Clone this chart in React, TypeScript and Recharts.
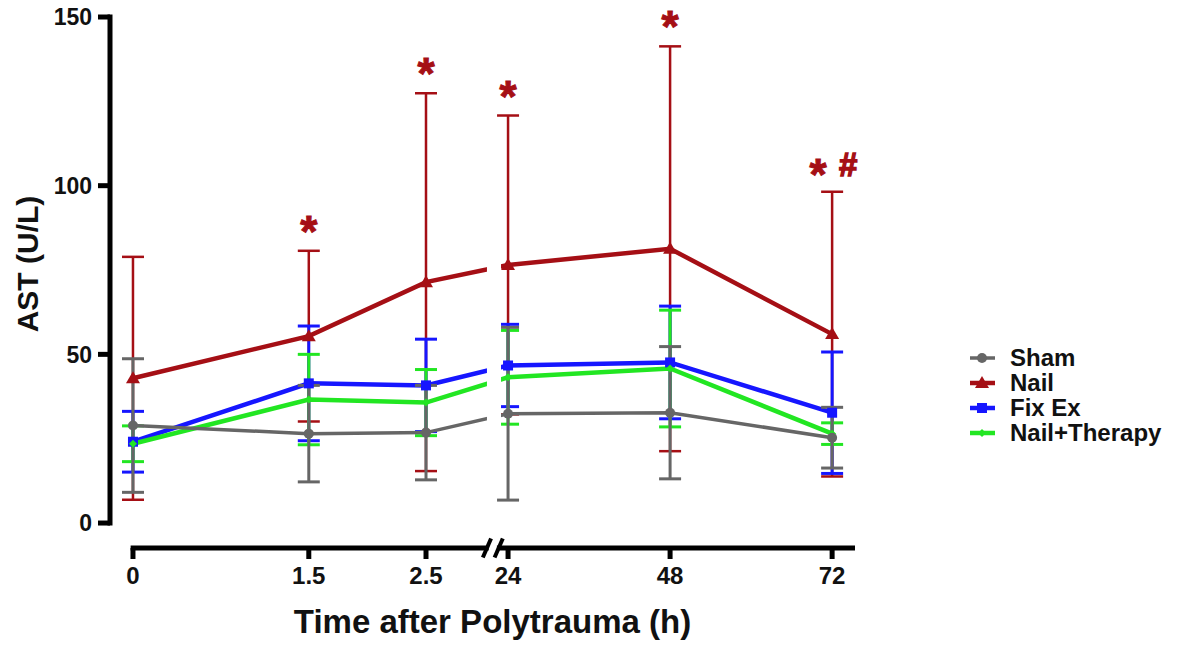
import { ErrorBar, LabelList, Line, LineChart, ReferenceArea, ReferenceLine, XAxis, YAxis } from 'recharts';

const FONT = '"Liberation Sans", Arial, Helvetica, sans-serif';

const times = [0, 1.5, 2.5, 24, 48, 72];
const tickLabels = ['0', '1.5', '2.5', '24', '48', '72'];
const yTicks = [0, 50, 100, 150];

const shamMean = [28.9, 26.5, 26.8, 32.4, 32.7, 25.3];
const shamSd = [19.8, 14.3, 14.0, 25.6, 19.6, 9.0];
const nailMean = [42.9, 55.4, 71.4, 76.5, 81.3, 56.0];
const nailSd = [36.0, 25.3, 56.0, 44.3, 60.0, 42.2];
const fixExMean = [24.1, 41.4, 40.8, 46.7, 47.6, 32.7];
const fixExSd = [9.0, 17.0, 13.7, 12.2, 16.7, 18.0];
const therapyMean = [23.5, 36.6, 35.7, 43.2, 45.8, 26.5];
const therapySd = [5.3, 13.4, 9.8, 13.9, 17.3, 3.2];
const nailMarks = ['', '*', '*', '*', '*', '*'];
const nailHash = ['', '', '', '', '', '#'];

const C = { sham: '#666666', nail: '#a50f15', fixEx: '#1616ff', therapy: '#22e622' };

// broken x axis: 0..2.5 h on the left part, 24..72 h squeezed on the right part
const BREAK_U = 3.07;
const toAxis = (t: number) => (t <= 2.5 ? t : 3.2 + (t - 24) * 0.0576);
const X_MIN = -0.196;
const X_MAX = 6.16;
const Y_MIN = -7.4;

const data = times.map((t, i) => ({
  u: toAxis(t),
  sham: shamMean[i],
  shamSd: shamSd[i],
  nail: nailMean[i],
  nailSd: nailSd[i],
  nailTop: nailMean[i] + nailSd[i],
  nailMark: nailMarks[i],
  fixEx: fixExMean[i],
  fixExSd: fixExSd[i],
  therapy: therapyMean[i],
  therapySd: therapySd[i],
}));

const Circle = ({ cx, cy, fill }: any) => <circle cx={cx} cy={cy} r={5} fill={fill} />;
const Triangle = ({ cx, cy, fill }: any) => (
  <polygon points={`${cx},${cy - 7} ${cx + 7},${cy + 5} ${cx - 7},${cy + 5}`} fill={fill} />
);
const Square = ({ cx, cy, fill }: any) => <rect x={cx - 5} y={cy - 5} width={10} height={10} fill={fill} />;
const Diamond = ({ cx, cy, fill }: any) => (
  <polygon points={`${cx},${cy - 4} ${cx + 4},${cy} ${cx},${cy + 4} ${cx - 4},${cy}`} fill={fill} />
);

const legendItems = [
  { name: 'Sham', color: C.sham, Marker: Circle, w: 3.5 },
  { name: 'Nail', color: C.nail, Marker: Triangle, w: 4.5 },
  { name: 'Fix Ex', color: C.fixEx, Marker: Square, w: 4.5 },
  { name: 'Nail+Therapy', color: C.therapy, Marker: Diamond, w: 4.5 },
];

function MarkLabel(props: any) {
  const { x, y, index } = props;
  const mark = nailMarks[index];
  if (!mark) return null;
  const hash = nailHash[index];
  const txt = { fill: C.nail, stroke: C.nail, strokeWidth: 1, fontFamily: FONT, fontWeight: 'bold' as const };
  if (!hash) {
    return (
      <text x={x} y={y - 4} textAnchor="middle" fontSize={44} {...txt}>
        {mark}
      </text>
    );
  }
  return (
    <g>
      <text x={x - 14} y={y - 2} textAnchor="middle" fontSize={44} {...txt}>
        {mark}
      </text>
      <text x={x + 16} y={y - 16} textAnchor="middle" fontSize={33} {...txt} strokeWidth={1.4}>
        {hash}
      </text>
    </g>
  );
}

function Legend() {
  return (
    <div style={{ position: 'absolute', left: 966, top: 345, fontFamily: FONT, fontWeight: 'bold', fontSize: 24 }}>
      {legendItems.map(({ name, color, Marker, w }) => (
        <div key={name} style={{ display: 'flex', alignItems: 'center', height: 25 }}>
          <svg width={32} height={20} style={{ marginRight: 12 }}>
            <line x1={4} y1={10} x2={29} y2={10} stroke={color} strokeWidth={w} />
            <Marker cx={16} cy={10} fill={color} />
          </svg>
          <span style={{ color: '#111', lineHeight: '25px' }}>{name}</span>
        </div>
      ))}
    </div>
  );
}

export default function App() {
  const tickStyle = { fontSize: 23, fontWeight: 'bold', fill: '#111', fontFamily: FONT };
  return (
    <div style={{ position: 'absolute', left: 0, top: 0, width: 1181, height: 655, background: '#fff' }}>
      <LineChart width={1181} height={655} data={data} margin={{ top: 17, right: 326, bottom: 47, left: 0 }}>
        <XAxis
          type="number"
          dataKey="u"
          domain={[X_MIN, X_MAX]}
          ticks={times.map(toAxis)}
          tickFormatter={(_v: number, i: number) => tickLabels[i]}
          axisLine={false}
          tickLine={{ stroke: '#000', strokeWidth: 5 }}
          tickSize={11}
          tickMargin={8}
          height={60}
          tick={{ ...tickStyle, fontSize: 24 }}
          label={{
            content: ({ viewBox }: any) => (
              <text x={viewBox.x + viewBox.width / 2 + 10} y={viewBox.y + 85} textAnchor="middle" fontFamily={FONT} fontWeight="bold" fontSize={33} fill="#111">
                Time after Polytrauma (h)
              </text>
            ),
          }}
        />
        <YAxis
          type="number"
          domain={[Y_MIN, 150]}
          ticks={yTicks}
          width={110}
          axisLine={false}
          tickLine={{ stroke: '#000', strokeWidth: 5 }}
          tickSize={12}
          tickMargin={6}
          tick={tickStyle}
          label={{
            content: ({ viewBox }: any) => (
              <text transform={`translate(38, ${viewBox.y + 247}) rotate(-90)`} textAnchor="middle" fontFamily={FONT} fontWeight="bold" fontSize={30} fill="#111">
                AST (U/L)
              </text>
            ),
          }}
        />

        <Line dataKey="nail" stroke={C.nail} strokeWidth={4.5} isAnimationActive={false}
          dot={(p: any) => <Triangle key={`n${p.index}`} cx={p.cx} cy={p.cy} fill={C.nail} />} activeDot={false}>
          <ErrorBar dataKey="nailSd" width={11} stroke={C.nail} strokeWidth={2.5} direction="y" />
        </Line>
        <Line dataKey="fixEx" stroke={C.fixEx} strokeWidth={4.5} isAnimationActive={false}
          dot={(p: any) => <Square key={`f${p.index}`} cx={p.cx} cy={p.cy} fill={C.fixEx} />} activeDot={false}>
          <ErrorBar dataKey="fixExSd" width={11} stroke={C.fixEx} strokeWidth={3} direction="y" />
        </Line>
        <Line dataKey="therapy" stroke={C.therapy} strokeWidth={4.5} isAnimationActive={false}
          dot={(p: any) => <Diamond key={`t${p.index}`} cx={p.cx} cy={p.cy} fill={C.therapy} />} activeDot={false}>
          <ErrorBar dataKey="therapySd" width={11} stroke={C.therapy} strokeWidth={3} direction="y" />
        </Line>
        <Line dataKey="sham" stroke={C.sham} strokeWidth={3.5} isAnimationActive={false}
          dot={(p: any) => <Circle key={`s${p.index}`} cx={p.cx} cy={p.cy} fill={C.sham} />} activeDot={false}>
          <ErrorBar dataKey="shamSd" width={11} stroke={C.sham} strokeWidth={3} direction="y" />
        </Line>
        <Line dataKey="nailTop" stroke="none" dot={false} activeDot={false} isAnimationActive={false}>
          <LabelList dataKey="nailMark" content={MarkLabel} />
        </Line>

        {/* gap in the lines at the axis break */}
        <ReferenceArea x1={BREAK_U - 0.05} x2={BREAK_U + 0.07} y1={15} y2={90} fill="#fff" fillOpacity={1} stroke="none" ifOverflow="visible" zIndex={1000} />

        {/* offset axis lines */}
        <ReferenceLine segment={[{ x: X_MIN, y: 0 }, { x: X_MIN, y: 150 }]} stroke="#000" strokeWidth={5} strokeLinecap="square" ifOverflow="visible" />
        <ReferenceLine segment={[{ x: -0.02, y: Y_MIN }, { x: BREAK_U - 0.035, y: Y_MIN }]} stroke="#000" strokeWidth={5} ifOverflow="visible" />
        <ReferenceLine segment={[{ x: BREAK_U + 0.035, y: Y_MIN }, { x: X_MAX, y: Y_MIN }]} stroke="#000" strokeWidth={5} ifOverflow="visible" />
        <ReferenceLine segment={[{ x: BREAK_U - 0.085, y: -10.2 }, { x: BREAK_U - 0.015, y: -4.6 }]} stroke="#000" strokeWidth={4} ifOverflow="visible" />
        <ReferenceLine segment={[{ x: BREAK_U + 0.015, y: -10.2 }, { x: BREAK_U + 0.085, y: -4.6 }]} stroke="#000" strokeWidth={4} ifOverflow="visible" />
      </LineChart>
      <Legend />
    </div>
  );
}
